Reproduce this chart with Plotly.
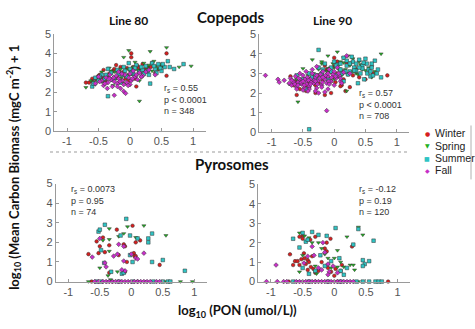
import plotly.graph_objects as go

W, H = 475, 329

SEASONS = ["Winter", "Spring", "Summer", "Fall"]
COLORS = ["#d61f1f", "#22b022", "#2ec4c4", "#c72ec7"]
SYMBOLS = ["circle", "triangle-down", "square", "diamond"]
X_TICKS = [-1, -0.5, 0, 0.5, 1]
X_TICK_LABELS = ["-1", "-0.5", "0", "0.5", "1"]
Y_TICKS = [0, 1, 2, 3, 4, 5]

# ---------------- Copepods, Line 80 ----------------
C80_WINTER_X = [-0.7,-0.65,-0.6,-0.55,-0.5,-0.45,-0.42,-0.4,-0.35,-0.3,-0.28,-0.25,-0.2,-0.18,-0.15,-0.12,-0.1,-0.08,-0.05,-0.02,0.0,0.02,0.05,0.08,0.1,0.12,0.15,0.2,0.25,0.3,0.35,0.4,0.5,0.58,0.58,-0.38,-0.22,0.02,-0.48,0.18,
                -0.52,-0.33,-0.27,-0.16,-0.07,0.04,0.07,0.14,0.22,0.28,0.33,0.45,-0.6,-0.44,-0.02]
C80_WINTER_Y = [2.5,2.5,2.55,2.7,2.85,2.6,3.15,2.45,2.8,3.0,2.65,3.2,2.75,2.95,3.3,2.6,3.05,2.85,3.25,2.9,3.15,4.0,3.3,2.7,2.3,3.35,3.1,3.45,3.2,3.3,3.5,3.0,3.35,2.85,4.0,2.55,3.4,3.8,2.9,2.8,
                2.65,2.95,3.1,3.05,2.7,2.95,3.2,3.25,3.05,3.1,3.3,3.2,2.7,2.75,2.6]
C80_SPRING_X = [-0.7,-0.62,-0.55,-0.5,-0.45,-0.4,-0.35,-0.3,-0.27,-0.22,-0.18,-0.15,-0.12,-0.1,-0.05,-0.02,0.0,0.05,0.1,0.15,0.18,0.22,0.25,0.3,0.32,0.38,0.45,0.5,0.58,0.78,0.97,-0.08,0.15,-0.33,-0.45,0.08,
                -0.58,-0.47,-0.38,-0.24,-0.14,-0.03,0.03,0.12,0.2,0.27,0.35,0.42,0.48]
C80_SPRING_Y = [2.25,2.6,2.4,2.8,3.05,2.5,2.9,3.1,2.35,2.7,3.0,3.2,2.55,3.8,2.9,4.15,3.1,3.3,2.85,1.55,3.2,3.5,3.05,3.4,4.1,3.6,3.2,3.3,4.3,3.3,3.35,2.45,2.6,3.25,2.55,3.55,
                2.55,2.7,2.85,3.05,2.75,3.2,2.95,3.15,3.0,3.25,3.1,3.35,3.45]
C80_SUMMER_X = [-0.6,-0.55,-0.5,-0.45,-0.4,-0.35,-0.3,-0.25,-0.2,-0.15,-0.1,-0.05,0.0,0.05,0.1,0.15,0.2,0.25,0.3,0.32,0.35,0.4,0.45,0.5,0.55,0.6,0.63,0.7,0.85,-0.35,-0.12,0.22,0.42,-0.02,
                -0.48,-0.38,-0.28,-0.18,-0.08,0.02,0.08,0.18,0.28,0.38,0.48,0.52,-0.58]
C80_SUMMER_Y = [2.3,2.75,2.6,2.9,2.7,1.8,3.0,2.75,3.15,2.5,3.3,2.8,3.2,2.95,3.4,3.05,3.15,3.35,2.9,2.45,3.5,3.2,3.45,3.1,3.3,3.6,3.3,3.2,3.45,3.2,2.9,2.95,3.0,3.5,
                2.8,2.9,2.65,2.95,3.1,3.0,3.25,3.3,3.1,3.35,3.25,3.45,2.45]
C80_FALL_X = [-0.55,-0.5,-0.45,-0.42,-0.38,-0.35,-0.32,-0.3,-0.28,-0.25,-0.22,-0.2,-0.18,-0.15,-0.12,-0.1,-0.08,-0.05,-0.02,0.0,0.02,0.05,0.08,0.1,0.15,0.2,0.25,0.3,0.4,-0.25,-0.1,-0.07,-0.18,0.0,
              -0.48,-0.4,-0.33,-0.26,-0.16,-0.13,-0.03,0.04,0.12,0.18,-0.36,-0.2]
C80_FALL_Y = [2.45,2.8,2.6,2.35,2.75,2.5,2.9,2.65,2.3,2.55,2.85,2.45,2.7,2.2,2.6,2.05,2.9,2.5,2.75,2.95,2.6,3.1,2.8,2.9,3.0,2.85,3.05,3.15,2.9,1.85,2.4,1.95,3.05,2.4,
              2.55,2.45,2.7,2.75,2.55,2.95,2.35,2.7,2.65,2.8,2.2,2.3]

# ---------------- Copepods, Line 90 ----------------
C90_WINTER_X = [-0.7,-0.62,-0.6,-0.55,-0.5,-0.45,-0.4,-0.35,-0.3,-0.25,-0.2,-0.15,-0.12,-0.1,-0.05,0.0,0.02,0.05,0.1,0.12,0.15,0.2,0.25,0.3,0.4,0.5,0.62,0.85,-0.15,-0.05,0.1,-0.38,-0.22,0.05,-0.08,0.18,-0.6,-0.3,
                -0.65,-0.52,-0.42,-0.33,-0.27,-0.18,-0.1,-0.02,0.08,0.15,0.22,0.35,-0.46,0.0]
C90_WINTER_Y = [2.85,2.6,1.9,2.2,2.45,2.1,2.3,2.6,2.0,2.5,3.0,1.9,3.2,2.8,2.0,3.8,2.55,3.0,3.2,2.4,2.7,3.5,2.3,2.9,2.8,2.7,3.0,2.9,3.4,2.6,2.35,2.75,2.95,3.6,3.25,2.1,2.5,2.4,
                2.4,2.65,2.5,2.8,2.9,2.65,3.05,2.8,2.85,3.1,2.95,3.2,2.35,3.35]
C90_SPRING_X = [-0.72,-0.6,-0.58,-0.5,-0.48,-0.42,-0.35,-0.3,-0.25,-0.2,-0.15,-0.1,-0.05,0.0,0.05,0.1,0.12,0.15,0.18,0.2,0.25,0.3,0.35,0.4,0.45,0.5,0.55,0.6,0.65,0.75,-0.4,-0.2,0.0,0.08,0.22,0.3,-0.1,0.15,0.38,-0.28,
                -0.55,-0.45,-0.33,-0.22,-0.12,-0.02,0.07,0.17,0.27,0.33,0.42,0.5,0.6]
C90_SPRING_Y = [2.45,2.7,1.55,3.25,2.4,2.9,3.7,2.5,3.2,3.5,2.8,3.9,3.05,3.3,4.1,3.6,2.9,3.8,3.2,2.1,3.4,3.75,3.0,3.6,3.2,3.5,3.3,2.8,3.1,4.0,2.6,3.6,2.7,3.45,3.9,3.1,3.25,3.55,2.95,2.85,
                2.6,2.75,3.0,2.95,3.1,3.5,3.2,3.05,3.55,3.3,3.45,3.15,3.35]
C90_SUMMER_X = [-0.6,-0.55,-0.45,-0.4,-0.35,-0.25,-0.2,-0.15,-0.1,-0.05,0.0,0.05,0.1,0.15,0.2,0.22,0.25,0.3,0.32,0.35,0.38,0.4,0.42,0.45,0.48,0.5,0.55,0.58,0.6,0.65,0.7,0.75,-0.4,-0.25,0.05,0.12,0.28,0.45,0.35,0.2,-0.3,0.62,0.15,0.52,
                -0.5,-0.3,-0.18,-0.05,0.03,0.1,0.18,0.25,0.32,0.4,0.47,0.53,0.6,0.68,0.58]
C90_SUMMER_Y = [2.9,2.5,2.2,0.15,2.8,4.2,3.0,3.5,2.7,3.3,3.6,2.9,3.2,3.8,3.4,2.95,3.1,3.6,3.3,3.5,2.5,3.7,3.0,3.4,2.7,3.75,3.2,2.85,3.3,3.65,3.2,2.8,3.0,3.3,3.45,3.0,3.85,3.25,3.15,3.65,2.75,2.9,2.6,3.5,
                2.7,2.9,3.2,3.1,3.4,3.5,3.1,3.5,3.15,3.3,3.55,3.0,3.5,3.0,3.1]
C90_FALL_X = [-1.1,-0.9,-0.88,-0.8,-0.72,-0.7,-0.68,-0.65,-0.62,-0.6,-0.58,-0.55,-0.52,-0.5,-0.48,-0.45,-0.43,-0.4,-0.38,-0.35,-0.33,-0.3,-0.28,-0.25,-0.22,-0.2,-0.18,-0.15,-0.12,-0.1,-0.08,-0.05,-0.02,0.0,0.03,0.05,0.08,0.1,0.15,0.2,-0.6,-0.5,-0.4,-0.3,-0.2,-0.1,0.0,-0.55,-0.45,-0.35,-0.25,-0.15,-0.12,0.12,0.25,-0.65,-0.42,-0.28,
              -0.68,-0.63,-0.57,-0.53,-0.47,-0.44,-0.41,-0.37,-0.32,-0.27,-0.23,-0.19,-0.14,-0.09,-0.04,0.02,0.07,-0.58,-0.48,-0.38,-0.28,-0.18,-0.08,-0.5,-0.3,-0.1,0.1]
C90_FALL_Y = [2.9,2.7,2.55,2.65,2.5,2.75,2.4,2.6,2.85,2.3,2.55,2.7,2.45,2.9,2.25,2.6,2.8,2.35,2.7,3.0,2.5,2.8,2.25,2.65,2.95,2.4,3.1,2.7,2.5,2.85,3.2,2.6,2.95,3.1,2.75,3.3,2.9,2.6,3.05,3.9,2.2,2.15,2.2,2.1,2.3,2.2,2.4,3.0,3.1,3.2,2.0,2.05,1.1,2.5,3.0,2.55,2.1,3.35,
              2.65,2.45,2.75,2.55,2.7,2.45,2.65,2.55,2.65,2.45,2.75,2.55,2.9,2.6,2.8,2.85,3.0,2.4,2.4,2.45,2.9,2.8,2.45,2.6,2.6,3.0,2.75]

# ---------------- Pyrosomes, Line 80 ----------------
P80_WINTER_X = [-0.68,-0.55,-0.5,-0.45,-0.35,-0.42,-0.52,-0.23,0.02,0.14,0.07,-0.12,-0.1,-0.2,0.04,0.05,0.07,-0.07,0.45,-0.35,-0.1,-0.63,-0.3,0.1]
P80_WINTER_Y = [1.4,2.05,1.8,2.25,1.85,1.5,1.45,2.65,2.85,2.1,2.0,1.9,1.8,1.35,1.45,1.3,1.3,1.0,0.85,0.45,0.5,0,0,0]
P80_SPRING_X = [-0.35,-0.12,0.07,0.2,0.55,-0.2,-0.45,-0.35,-0.06,-0.5,-0.37,-0.33,-0.22,-0.35,-0.68,-0.38,0.22,0.55,0.78,0.97]
P80_SPRING_Y = [2.7,2.45,2.25,2.85,2.35,2.3,2.1,2.15,2.8,0.7,0.3,0.1,0.5,1.55,0,0,0,0,0,0]
P80_SUMMER_X = [-0.52,-0.5,-0.42,-0.08,-0.02,0.1,0.27,0.33,0.27,-0.48,-0.43,0.02,-0.02,0.33,0.5,0.85,-0.15,-0.32,-0.17,-0.12,-0.55,-0.48,-0.2,0.02,0.35,0.5,0.58,0.62]
P80_SUMMER_Y = [2.55,2.65,2.9,3.2,2.35,2.2,2.2,2.45,2.0,1.6,0.95,1.0,1.35,1.0,1.1,0.55,0.4,0.5,2.35,0.45,0,0,0,0,0,0,0,0]
P80_FALL_X = [-0.62,-0.4,-0.5,-0.2,-0.12,-0.22,-0.12,0.0,0.07,0.1,0.2,-0.1,-0.15,-0.28,-0.42,-0.58,-0.52,-0.45,-0.4,-0.35,-0.3,-0.25,-0.2,-0.15,-0.1,-0.05,0.0,0.05,0.1,0.15,0.2,0.25,0.3,0.4,0.45]
P80_FALL_Y = [1.25,0.75,2.2,1.9,1.8,1.4,1.05,1.4,1.2,1.15,1.45,0.55,0.6,1.3,0.95,0,0,0,0,0,0,0,0,0,0,0,0,0,0,0,0,0,0,0,0]

# ---------------- Pyrosomes, Line 90 ----------------
P90_WINTER_X = [-0.7,-0.62,-0.58,-0.55,-0.52,-0.5,-0.5,-0.48,-0.47,-0.45,-0.42,-0.4,-0.38,-0.37,-0.35,-0.33,-0.3,-0.3,-0.25,-0.2,-0.15,-0.12,-0.1,-0.05,0.0,0.1,0.12,0.28,-0.42,-0.65,-0.12,0.02,-0.55,-0.06,-0.72,-0.3,0.05,0.85]
P90_WINTER_Y = [1.4,1.05,1.05,0.85,1.15,2.35,2.2,1.45,1.2,0.9,1.1,1.0,2.15,0.75,1.3,0.65,2.3,0.45,0.55,1.0,1.7,1.55,0.7,0.5,0.3,0.55,0.85,1.8,0.6,0.85,2.0,0.65,2.3,2.2,0,0,0,0]
P90_SPRING_X = [-0.55,-0.47,-0.4,-0.35,-0.25,-0.2,-0.15,-0.1,0.05,0.0,0.1,0.2,0.45,0.38,-0.55,-0.3,-0.05,0.05,0.15,0.25,0.32,0.3,-0.28,-0.5,-0.1,-0.6,-0.2,0.2,0.38]
P90_SPRING_Y = [2.5,2.35,2.25,2.0,2.0,1.7,1.4,1.2,1.6,1.2,1.0,2.3,2.4,2.8,0.5,0.8,0.7,0.75,0.75,0.85,0.6,0.85,0.4,1.35,0.85,0,0,0,0]
P90_SUMMER_X = [-0.65,-0.55,-0.5,-0.45,-0.42,-0.35,-0.25,-0.12,0.02,0.38,0.62,0.3,-0.05,-0.15,0.08,0.45,0.48,0.55,0.45,-0.4,-0.3,0.1,0.15,-0.5,-0.22,0.2,-0.65,-0.4,-0.1,0.1,0.35,0.45,0.55,0.65,0.7,0.75]
P90_SUMMER_Y = [2.2,1.75,2.5,2.05,2.15,2.55,2.4,2.35,2.75,2.7,2.1,1.9,1.05,0.8,1.2,1.1,0.9,1.05,0.8,0.4,0.55,0.55,0.35,0.7,1.35,0.7,0,0,0,0,0,0,0,0,0,0]
P90_FALL_X = [-0.92,-0.42,-0.32,-0.15,-0.1,-0.2,-0.25,-0.08,-0.18,-0.02,0.05,-0.48,-0.35,-0.1,-1.07,-0.9,-0.8,-0.75,-0.6,-0.55,-0.5,-0.45,-0.4,-0.35,-0.3,-0.25,-0.2,-0.15,-0.1,-0.05,0.0,0.05,0.1,0.15,0.2,0.25,0.3]
P90_FALL_Y = [0.85,1.3,1.35,1.5,0.9,0.6,0.7,0.5,2.0,0.8,0.45,0.95,1.8,0.35,0,0,0,0,0,0,0,0,0,0,0,0,0,0,0,0,0,0,0,0,0,0,0]

PANELS = [
    ("", [(C80_WINTER_X, C80_WINTER_Y), (C80_SPRING_X, C80_SPRING_Y), (C80_SUMMER_X, C80_SUMMER_Y), (C80_FALL_X, C80_FALL_Y)]),
    ("2", [(C90_WINTER_X, C90_WINTER_Y), (C90_SPRING_X, C90_SPRING_Y), (C90_SUMMER_X, C90_SUMMER_Y), (C90_FALL_X, C90_FALL_Y)]),
    ("3", [(P80_WINTER_X, P80_WINTER_Y), (P80_SPRING_X, P80_SPRING_Y), (P80_SUMMER_X, P80_SUMMER_Y), (P80_FALL_X, P80_FALL_Y)]),
    ("4", [(P90_WINTER_X, P90_WINTER_Y), (P90_SPRING_X, P90_SPRING_Y), (P90_SUMMER_X, P90_SUMMER_Y), (P90_FALL_X, P90_FALL_Y)]),
]

STATS = [
    "r<sub>s</sub> = 0.55<br>p < 0.0001<br>n = 348",
    "r<sub>s</sub> = 0.57<br>p < 0.0001<br>n = 708",
    "r<sub>s</sub> = 0.0073<br>p = 0.95<br>n = 74",
    "r<sub>s</sub> = -0.12<br>p = 0.19<br>n = 120",
]

def px(x):
    return x / W

def py(y):
    return 1 - y / H

# pixel boxes: (left, right, top, bottom)
BOXES = [(54.4, 205.6, 29.0, 130.0), (259.2, 409.2, 29.3, 131.0),
         (55.7, 206.9, 184.3, 286.0), (258.3, 410.3, 185.0, 286.0)]

fig = go.Figure()
for (suffix, series) in PANELS:
    for i, (xs, ys) in enumerate(series):
        fig.add_trace(go.Scatter(
            x=xs, y=ys, mode="markers", showlegend=False, cliponaxis=False,
            xaxis="x" + suffix, yaxis="y" + suffix,
            marker=dict(symbol=SYMBOLS[i], size=3.6, color=COLORS[i],
                        line=dict(color="#333333", width=0.5)),
        ))

tickfont = dict(family="Arial", size=11, color="#555555")
layout = dict(width=W, height=H, margin=dict(l=0, r=0, t=0, b=0),
              paper_bgcolor="white", plot_bgcolor="white", showlegend=False)
for k, (l, r, t, b) in enumerate(BOXES):
    sx = "" if k == 0 else str(k + 1)
    layout["xaxis" + sx] = dict(domain=[px(l), px(r)], range=[-1.2, 1.2], anchor="y" + sx,
                                tickvals=X_TICKS, ticktext=X_TICK_LABELS, showgrid=False,
                                zeroline=False, showline=True, linecolor="#9a9a9a", linewidth=1,
                                ticks="inside", ticklen=3, tickcolor="#9a9a9a", tickfont=tickfont)
    layout["yaxis" + sx] = dict(domain=[py(b), py(t)], range=[0, 5], anchor="x" + sx,
                                tickvals=Y_TICKS, showgrid=False, zeroline=False, showline=True,
                                linecolor="#9a9a9a", linewidth=1, ticks="inside", ticklen=3,
                                tickcolor="#9a9a9a", tickfont=tickfont)
fig.update_layout(**layout)

title_font = "Lato"
ann = []
def add_text(text, x, y, size, xanchor="center", yanchor="middle", color="#111111",
             family=title_font, angle=0, align="center"):
    ann.append(dict(text=text, x=px(x), y=py(y), xref="paper", yref="paper", showarrow=False,
                    xanchor=xanchor, yanchor=yanchor, textangle=angle, align=align,
                    font=dict(family=family, size=size, color=color)))

add_text("<b>Copepods</b>", 231, 11, 15)
add_text("<b>Pyrosomes</b>", 232, 164, 15)
add_text("<b>Line 80</b>", 128, 15, 12)
add_text("<b>Line 90</b>", 332, 15, 12)
add_text("<b>log<sub>10</sub> (Mean Carbon Biomass (mgC m<sup>-2</sup>) + 1</b>", 14, 168, 13, angle=-90)
add_text("<b>log<sub>10</sub> (PON (umol/L))</b>", 237, 317, 13)

stat_pos = [(162, 78), (357, 83), (69, 183), (357, 183)]
for s, (x, y) in zip(STATS, stat_pos):
    add_text(s, x, y, 9, xanchor="left", yanchor="top", color="#333333",
             family="Arial", align="left")

LEG_SYM = ["●", "▼", "■", "◆"]
for i, name in enumerate(SEASONS):
    yy = 132 + i * 12.9
    add_text(LEG_SYM[i], 427, yy, 6, color=COLORS[i], family="DejaVu Sans")
    add_text(name, 433, yy, 10.5, xanchor="left", color="#222222", family="Arial")

fig.update_layout(annotations=ann)

fig.add_shape(type="line", xref="paper", yref="paper", x0=px(50), x1=px(410), y0=py(151.5), y1=py(151.5),
              line=dict(color="#bdbdbd", width=1.5, dash="dot"))
fig.add_shape(type="line", xref="paper", yref="paper", x0=px(471), x1=px(471), y0=py(124), y1=py(180),
              line=dict(color="#b0b0b0", width=1))

fig.write_html("out.html", config={"displayModeBar": False},
               post_script="document.body.style.margin='0px';document.body.style.overflow='hidden';")
